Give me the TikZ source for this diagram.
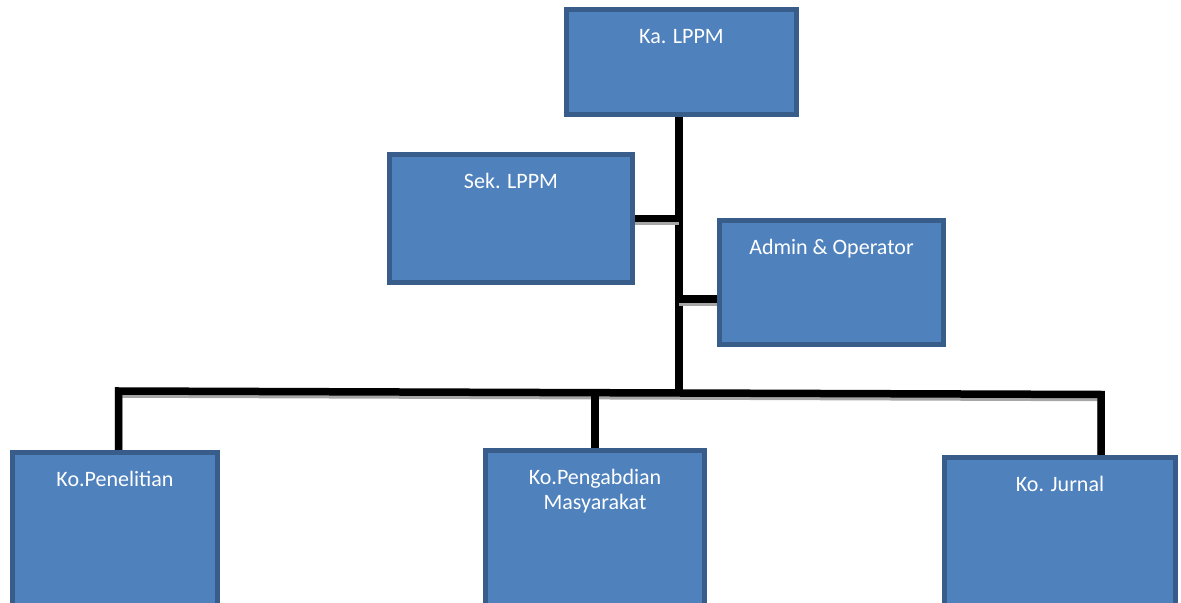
\documentclass[tikz,border=0pt]{standalone}
\usepackage{fontspec}
\setmainfont{Carlito}
\usepackage{tikz}
\pgfdeclarelayer{back}
\pgfsetlayers{back,main}
\definecolor{unitfill}{HTML}{4F81BD}
\definecolor{unitline}{HTML}{385D8A}
\definecolor{wireshade}{HTML}{A6A6A6}
\tikzset{
  unit/.style = {draw = unitline, fill = unitfill, line width = 2.5pt, inner sep = 0pt, anchor = north},
  unitname/.style = {text = white, font = \fontsize{11pt}{12.5pt}\selectfont, inner sep = 0pt,
    align = center, anchor = north, text height = 7pt, yshift = -11.25pt},
  wire/.style = {line width = 3.75pt, line join = miter,
    preaction = {draw = wireshade, line width = 3.75pt, transform canvas = {yshift = -1.5pt}}}
}

\begin{document}
\begin{tikzpicture}
  [x = .5pt, y = -.5pt]
  \useasboundingbox (0,0) rectangle (1181,603);
  \clip (0,0) rectangle (1181,603);
  % units
  \node[unit, minimum width = 115pt, minimum height = 52.5pt] (ka) at (681.5,7) {};
  \node[unit, minimum width = 121.5pt, minimum height = 64pt] (sek) at (511,152) {};
  \node[unit, minimum width = 112pt, minimum height = 62pt] (adm) at (831.5,218) {};
  \node[unit, minimum width = 102.5pt, minimum height = 92.5pt] (pen) at (115,450) {};
  \node[unit, minimum width = 109.5pt, minimum height = 93.5pt] (mas) at (595,448) {};
  \node[unit, minimum width = 115.5pt, minimum height = 90pt] (jur) at (1060,455) {};
  \node[unitname] (katext) at (ka.north) {Ka. LPPM};
  \node[unitname] (sektext) at (sek.north) {Sek. LPPM};
  \node[unitname] (admtext) at (adm.north) {Admin \& Operator};
  \node[unitname] (pentext) at (pen.north) {Ko.Penelitian};
  \node[unitname, text height = 19.5pt] (mastext) at (mas.north) {Ko.Pengabdian\\Masyarakat};
  \node[unitname] (jurtext) at (jur.north) {Ko. Jurnal};
  % wires
  \coordinate (hub) at (679,392.7);
  \coordinate (busL) at (118.5,391);
  \coordinate (busR) at (1101,394.5);
  \begin{pgfonlayer}{back}
    \draw[wire] (hub |- ka.south) -- (hub);
    \draw[wire] (sek.east) -- (sek.east -| hub);
    \draw[wire] ([yshift = -8.25pt]adm.west) -- ([yshift = -8.25pt]adm.west -| hub);
    \draw[wire] (busL |- pen.north) -- (busL) -- (busR) -- (busR |- jur.north);
    \draw[wire] (mas.north) -- (mas.north |- hub);
  \end{pgfonlayer}
\end{tikzpicture}
\end{document}
